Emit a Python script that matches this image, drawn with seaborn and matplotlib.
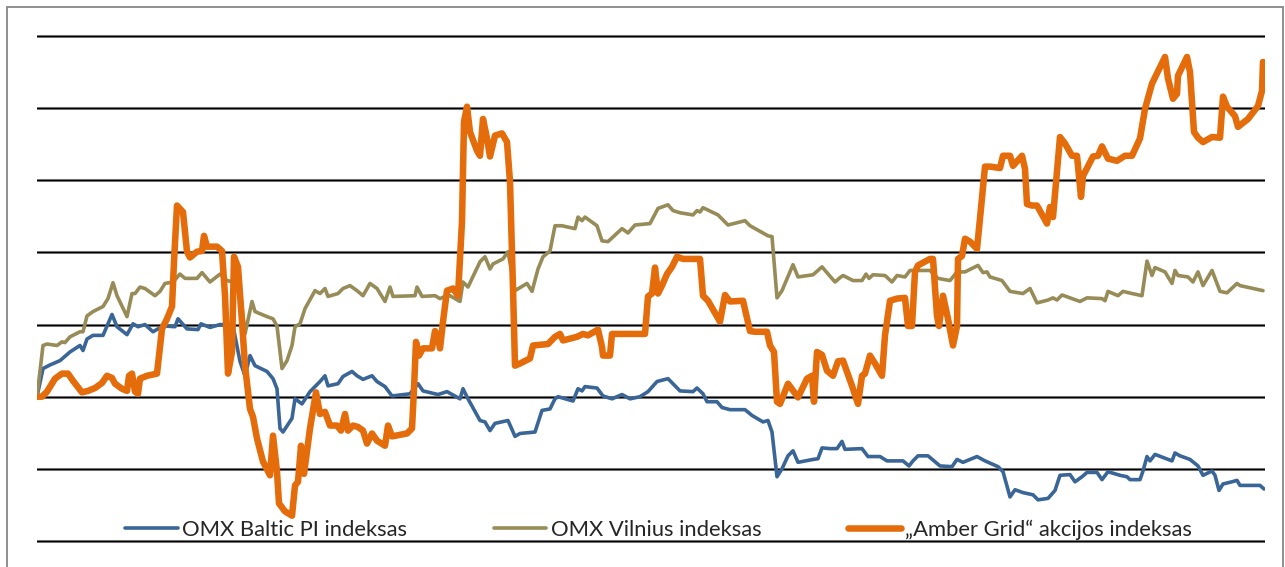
import numpy as np
import pandas as pd
import matplotlib
matplotlib.use("Agg")
import matplotlib.pyplot as plt
import seaborn as sns
from matplotlib.patches import Rectangle

# ---------------- data (index, start = 100; x = days from start) ----------------
baltic_days = [0, 6, 13, 23, 33, 43, 46, 50, 56, 66, 70, 75, 80, 90, 96, 101, 108, 116, 121, 128,
               138, 141, 150, 161, 164, 173, 183, 191, 196, 203, 208, 213, 218, 230, 236, 240, 243, 246,
               255, 258, 265, 273, 283, 288, 291, 301, 306, 315, 320, 326, 335, 340, 348, 355, 373, 381,
               386, 401, 410, 423, 426, 431, 443, 448, 453, 458, 471, 478, 483, 498, 505, 513, 518, 521,
               536, 541, 545, 548, 560, 566, 575, 585, 593, 603, 611, 620, 631, 643, 656, 660, 666, 670,
               680, 685, 693, 708, 715, 726, 731, 735, 740, 745, 751, 756, 761, 776, 781, 785, 793, 800,
               805, 808, 825, 831, 843, 850, 866, 872, 876, 881, 891, 903, 915, 920, 926, 940, 948, 961,
               966, 973, 978, 986, 996, 1001, 1011, 1018, 1023, 1033, 1038, 1045, 1050, 1060, 1065, 1071,
               1083, 1090, 1093, 1103, 1106, 1110, 1113, 1118, 1135, 1138, 1143, 1153, 1161, 1166, 1175,
               1178, 1182, 1186, 1195, 1200, 1203, 1223, 1227]
baltic_vals = [100.0, 103.9, 104.4, 105.0, 106.2, 107.1, 106.4, 108.0, 108.5, 108.5, 109.8, 111.4, 109.7,
               108.6, 110.1, 109.7, 110.0, 109.0, 109.4, 109.8, 109.7, 110.8, 109.4, 109.3, 110.1, 109.6,
               110.0, 110.0, 109.8, 104.9, 102.9, 105.7, 104.3, 103.5, 102.5, 101.1, 95.6, 95.1, 97.0,
               99.7, 99.0, 100.7, 102.1, 102.9, 101.5, 101.8, 102.8, 103.5, 102.9, 102.4, 102.9, 102.1,
               101.4, 100.1, 100.4, 101.8, 100.8, 100.3, 100.7, 99.7, 101.1, 99.7, 96.7, 96.5, 95.3, 96.3,
               96.7, 94.5, 94.9, 95.1, 98.1, 98.3, 99.7, 100.0, 99.4, 101.1, 100.8, 101.4, 101.2, 100.1,
               99.7, 100.3, 99.7, 100.0, 100.7, 102.1, 102.5, 100.8, 100.7, 101.2, 100.4, 99.3, 99.3, 98.5,
               98.2, 98.2, 97.4, 96.5, 96.7, 95.1, 88.9, 90.0, 91.8, 92.5, 90.9, 91.3, 91.4, 92.9, 92.8,
               92.8, 93.8, 92.7, 92.8, 91.7, 91.7, 91.1, 91.1, 90.4, 91.1, 91.8, 91.8, 90.4, 90.3, 91.3,
               90.9, 91.7, 91.1, 90.3, 89.6, 86.1, 87.1, 86.7, 86.4, 85.7, 85.9, 87.0, 89.1, 89.2, 88.2,
               88.9, 89.5, 89.5, 88.5, 89.6, 89.1, 88.9, 88.5, 88.5, 89.7, 91.7, 91.1, 92.0, 91.1, 92.2,
               91.8, 91.3, 90.4, 89.1, 89.7, 89.1, 87.0, 87.9, 88.2, 88.4, 87.7, 87.7, 87.2]

vilnius_days = [0, 6, 10, 20, 25, 28, 33, 43, 46, 50, 56, 66, 71, 76, 80, 90, 95, 98, 103, 108, 118, 123,
                128, 136, 143, 148, 160, 165, 173, 183, 190, 196, 203, 208, 215, 218, 230, 236, 240, 245,
                250, 255, 258, 263, 268, 278, 283, 288, 291, 301, 306, 313, 320, 326, 333, 340, 348, 353,
                356, 378, 380, 385, 398, 403, 408, 413, 423, 426, 431, 443, 448, 453, 456, 466, 471, 478,
                490, 495, 501, 506, 513, 518, 525, 528, 538, 541, 545, 548, 560, 565, 571, 585, 591, 598,
                613, 621, 631, 636, 643, 656, 660, 663, 666, 681, 691, 708, 713, 731, 735, 740, 745, 756,
                761, 776, 785, 798, 803, 806, 816, 825, 829, 832, 836, 848, 855, 860, 868, 873, 893, 901,
                913, 920, 928, 941, 946, 950, 953, 965, 973, 986, 993, 1000, 1011, 1016, 1020, 1025, 1043,
                1050, 1065, 1068, 1071, 1081, 1086, 1095, 1105, 1110, 1115, 1118, 1128, 1135, 1138, 1141,
                1151, 1156, 1161, 1166, 1175, 1183, 1190, 1200, 1203, 1226]
vilnius_vals = [100.0, 107.1, 107.3, 107.1, 107.6, 107.5, 108.3, 109.0, 109.0, 111.2, 111.8, 112.5, 113.6,
                115.8, 114.0, 111.1, 114.3, 114.3, 115.2, 115.0, 114.0, 114.6, 115.7, 115.9, 117.0, 116.4,
                116.4, 117.2, 115.9, 117.0, 116.1, 115.9, 115.0, 108.7, 113.2, 111.8, 111.1, 110.8, 109.8,
                103.9, 105.0, 107.1, 109.7, 110.1, 112.2, 114.7, 114.3, 115.0, 113.9, 114.3, 115.0, 115.4,
                114.7, 114.0, 115.7, 115.0, 113.2, 115.2, 113.9, 114.0, 115.2, 113.9, 114.0, 113.6, 113.9,
                114.0, 113.2, 115.9, 115.2, 118.7, 119.4, 117.7, 118.4, 119.1, 120.1, 114.7, 115.7, 114.6,
                117.7, 119.4, 120.2, 123.7, 123.7, 123.6, 123.3, 124.9, 124.4, 124.9, 123.7, 121.6, 121.5,
                123.3, 122.7, 123.8, 124.0, 126.1, 126.6, 125.8, 125.5, 125.2, 125.8, 125.6, 126.2, 125.2,
                123.8, 124.4, 123.7, 122.3, 122.2, 113.7, 114.7, 118.3, 116.6, 116.9, 118.0, 115.9, 116.5,
                116.8, 116.1, 116.1, 117.0, 116.4, 116.9, 116.8, 115.9, 116.8, 116.6, 117.5, 117.5, 116.4,
                116.1, 117.3, 117.3, 118.2, 117.2, 117.3, 116.6, 116.1, 114.6, 114.3, 115.0, 113.0, 113.4,
                113.7, 113.4, 114.1, 113.2, 113.7, 113.6, 113.3, 114.6, 114.0, 114.6, 114.3, 114.0, 118.8,
                116.8, 117.9, 117.3, 115.7, 117.5, 116.8, 116.6, 115.9, 117.3, 115.4, 117.5, 114.6, 114.4,
                115.7, 115.4, 114.7]

amber_days = [0, 5, 10, 18, 25, 31, 36, 45, 51, 58, 65, 70, 75, 78, 85, 90, 92, 95, 98, 101, 103, 110,
              120, 125, 130, 135, 137, 140, 146, 150, 153, 160, 165, 167, 170, 180, 185, 188, 191, 195,
              197, 201, 205, 208, 213, 216, 220, 226, 233, 236, 240, 242, 248, 255, 258, 261, 264, 267,
              273, 279, 283, 288, 293, 300, 304, 308, 311, 316, 321, 326, 330, 335, 340, 348, 351, 355,
              370, 375, 377, 379, 382, 386, 395, 398, 401, 403, 406, 410, 416, 421, 425, 427, 430, 433,
              440, 443, 446, 450, 453, 458, 465, 470, 473, 476, 478, 483, 493, 496, 511, 518, 523, 526,
              540, 546, 551, 561, 565, 566, 573, 575, 581, 608, 611, 615, 618, 621, 625, 630, 635, 640,
              646, 663, 666, 671, 683, 688, 693, 706, 713, 718, 730, 733, 737, 740, 743, 751, 761, 770,
              775, 777, 780, 785, 790, 796, 801, 806, 815, 821, 825, 828, 833, 838, 845, 848, 853, 860,
              868, 871, 875, 878, 881, 893, 896, 900, 902, 906, 911, 916, 920, 921, 925, 928, 933, 940,
              943, 948, 953, 963, 966, 973, 976, 985, 988, 990, 995, 1000, 1010, 1013, 1016, 1020, 1023,
              1028, 1035, 1040, 1044, 1046, 1056, 1061, 1065, 1071, 1080, 1088, 1095, 1103, 1108, 1115,
              1128, 1131, 1136, 1140, 1141, 1150, 1153, 1157, 1161, 1166, 1175, 1183, 1186, 1190, 1198,
              1201, 1211, 1221, 1225, 1226]
amber_vals = [100.0, 100.0, 100.7, 102.5, 103.2, 103.2, 102.2, 100.6, 100.8, 101.2, 101.9, 102.9, 102.6,
              101.8, 101.1, 100.8, 102.9, 103.2, 100.7, 100.4, 102.5, 102.9, 103.2, 109.4, 110.8, 112.5,
              118.7, 126.5, 125.6, 120.1, 119.3, 120.1, 120.2, 122.3, 120.8, 120.8, 120.2, 114.0, 103.2,
              106.2, 119.4, 118.0, 110.4, 104.3, 98.3, 97.2, 94.2, 91.0, 89.1, 94.6, 89.6, 85.2, 84.1,
              83.5, 87.7, 88.2, 93.2, 89.3, 95.6, 100.6, 97.6, 97.9, 96.0, 96.0, 95.3, 97.6, 95.3, 96.0,
              95.8, 95.3, 93.5, 94.9, 93.9, 93.2, 96.0, 94.5, 94.9, 95.6, 101.1, 107.6, 105.7, 106.7,
              106.7, 109.1, 108.3, 106.7, 110.4, 114.7, 115.0, 114.0, 124.3, 138.1, 140.2, 136.7, 134.1,
              133.4, 138.5, 135.8, 133.3, 136.2, 136.5, 135.3, 129.8, 115.0, 104.3, 104.6, 105.3, 107.1,
              107.3, 108.3, 108.7, 107.8, 108.3, 108.7, 108.5, 109.3, 106.9, 105.7, 105.7, 108.7, 108.7,
              108.7, 113.9, 114.3, 117.9, 114.3, 115.4, 117.0, 118.0, 119.4, 119.1, 119.1, 114.0, 113.3,
              110.4, 114.1, 113.2, 113.3, 109.1, 109.0, 109.0, 107.1, 106.2, 99.3, 99.0, 101.8, 99.9,
              102.5, 102.9, 99.3, 106.2, 105.8, 103.6, 102.9, 104.9, 105.0, 101.5, 99.0, 102.9, 103.2,
              105.7, 104.6, 102.9, 108.5, 113.3, 113.6, 113.7, 109.8, 109.8, 117.3, 118.2, 119.1, 119.1,
              111.2, 109.8, 114.0, 110.8, 107.1, 109.8, 119.1, 119.5, 121.9, 121.5, 120.5, 124.7, 131.9,
              131.9, 131.7, 133.4, 133.4, 132.0, 133.4, 131.6, 126.7, 126.5, 126.5, 124.0, 126.3, 124.9,
              131.2, 136.0, 135.1, 133.4, 133.4, 127.7, 130.6, 133.3, 133.4, 134.7, 133.0, 132.7, 133.4,
              133.4, 135.8, 139.9, 143.4, 147.1, 144.1, 141.3, 142.0, 144.5, 147.1, 145.0, 136.7, 135.9,
              135.3, 136.0, 135.9, 141.6, 140.2, 138.9, 137.4, 138.5, 140.3, 142.4, 146.4]

series_names = ["OMX Baltic PI indeksas", "OMX Vilnius indeksas", "\u201eAmber Grid\u201c akcijos indeksas"]
grid_levels = [80, 90, 100, 110, 120, 130, 140, 150]

# ---------------- styling ----------------
sns.set_style("white")
plt.rcParams['font.family'] = ['Lato', 'DejaVu Sans']

W, H = 1285, 567
fig = plt.figure(figsize=(W / 100, H / 100), dpi=100)

y_lo, y_hi = 78, 152
ax = fig.add_axes([37 / W, 0.0205, (1265 - 37) / W, 0.9414])

df_b = pd.DataFrame({"day": baltic_days, "value": baltic_vals})
df_v = pd.DataFrame({"day": vilnius_days, "value": vilnius_vals})
df_a = pd.DataFrame({"day": amber_days, "value": amber_vals})

for lvl in grid_levels:
    ax.axhline(lvl, color="#8c8c8c", linewidth=2.2, zorder=1)
    ax.axhline(lvl, color="#000000", linewidth=1.0, zorder=1.1)

sns.lineplot(data=df_b, x="day", y="value", ax=ax, color="#3A6597", linewidth=2.6,
             label=series_names[0], zorder=3, solid_joinstyle="round")
sns.lineplot(data=df_v, x="day", y="value", ax=ax, color="#978B57", linewidth=2.6,
             label=series_names[1], zorder=3, solid_joinstyle="round")
sns.lineplot(data=df_a, x="day", y="value", ax=ax, color="#E46C0A", linewidth=4.7,
             label=series_names[2], zorder=4, solid_capstyle="round", solid_joinstyle="round")

ax.set_xlim(0, 1228)
ax.set_ylim(y_lo, y_hi)
ax.set_xlabel("")
ax.set_ylabel("")
ax.set_xticks([])
ax.set_yticks([])
for s in ax.spines.values():
    s.set_visible(False)
ax.patch.set_alpha(0)

handles, labels = ax.get_legend_handles_labels()
ax.get_legend().remove()
fig.legend(handles, labels, loc="center", bbox_to_anchor=(658.5 / W, 1 - 530 / H), ncol=3,
           frameon=False, fontsize=15.8, handlelength=2.4, handletextpad=0.2,
           columnspacing=3.95, borderpad=0)

# outer chart border
fig.add_artist(Rectangle((7 / W, -0.05), (1283 - 7) / W, (H - 7) / H + 0.05,
                         transform=fig.transFigure, fill=False, edgecolor="#878787",
                         linewidth=1.3, zorder=0))

fig.savefig("out.png", dpi=100)
